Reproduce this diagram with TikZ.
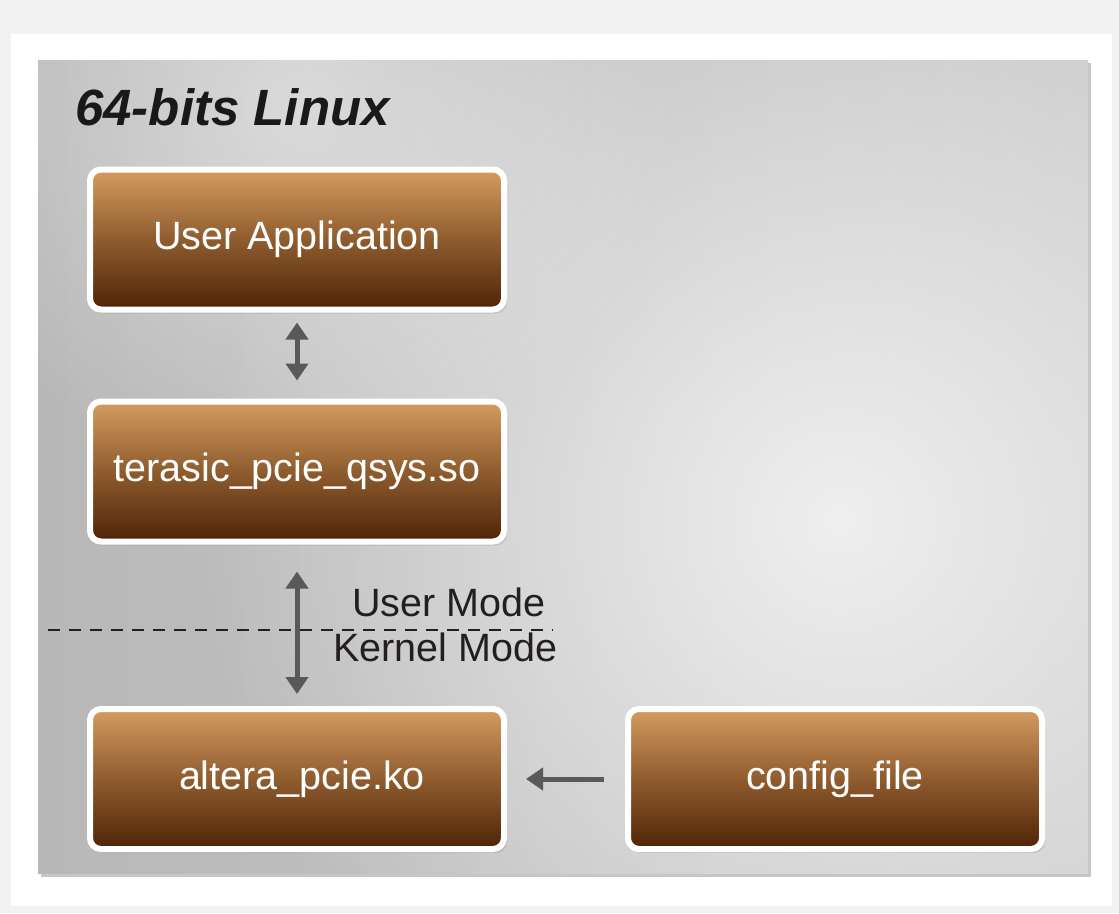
\documentclass[tikz,border=0pt]{standalone}
\usepackage{fontspec}
\setmainfont{Liberation Sans}
\usetikzlibrary{arrows.meta,shadows,fadings}
\tikzfading[name=softspot, inner color=transparent!0, outer color=transparent!100]
\definecolor{brtop}{HTML}{D49C60}
\definecolor{brmid}{HTML}{8F5C2E}
\definecolor{brbot}{HTML}{4E2306}
\definecolor{arrgray}{HTML}{59595B}
\definecolor{txtdark}{HTML}{231F20}
\definecolor{pagebg}{HTML}{F2F2F2}
\definecolor{panelin}{HTML}{F0EFEF}
\definecolor{panelleft}{HTML}{B8B8B8}
\definecolor{panelright}{HTML}{CACACA}
\tikzset{
  box/.style={rectangle, rounded corners=11pt, draw=white, line width=6pt,
    minimum width=414pt, minimum height=140pt,
    top color=brtop, bottom color=brbot, middle color=brmid,
    text=white, font=\fontsize{39.5}{42}\selectfont,
    drop shadow={opacity=0.22, shadow xshift=3pt, shadow yshift=-4pt}},
  arr/.style={draw=arrgray, line width=5pt, -{Triangle[width=22pt,length=17pt]}},
  darr/.style={draw=arrgray, line width=5pt, {Triangle[width=22pt,length=17pt]}-{Triangle[width=22pt,length=17pt]}},
  modelabel/.style={anchor=base west, inner sep=0pt, text=txtdark, font=\fontsize{39.5}{42}\selectfont},
  sep/.style={draw=txtdark, line width=2pt, dash pattern=on 12pt off 9pt}
}
\begin{document}
\begin{tikzpicture}[x=1pt,y=-1pt]
\useasboundingbox (0,0) rectangle (1119,913);
% page and card
\fill[pagebg] (0,0) rectangle (1119,913);
\fill[white] (11,34) rectangle (1112,906);
% panel shadow
\fill[gray!45] (41,63) rectangle (1091,877);
% panel
\begin{scope}
  \clip (38,60) rectangle (1088,873);
  \shade[left color=panelleft, right color=panelright] (38,60) rectangle (1088,873);
  \fill[panelin, path fading=softspot] (840,520) circle (640);
  \fill[white, opacity=0.45, path fading=softspot] (300,110) circle (380);
\end{scope}
% title
\node[anchor=base west, inner sep=0pt, text=black!90,
  font=\fontsize{51}{55}\selectfont\bfseries\itshape] (title) at (75,125) {64-bits Linux};
% boxes
\node[box] (ua) at (297,239.5) {User Application};
\node[box] (ts) at (297,471.5) {terasic\_pcie\_qsys.so};
\node[box] (ak) at (297,779) {\hspace*{10pt}altera\_pcie.ko};
\node[box] (cf) at (835,779) {config\_file};
% separator
\coordinate (d1) at (48,630);
\coordinate (d2) at (553,630);
\draw[sep] (d1) -- (d2);
\node[modelabel] (um) at (352,616) {User Mode};
\node[modelabel] (km) at (333,661) {Kernel Mode};
% arrows
\draw[darr] ([yshift=-10pt]ua.south) -- ([yshift=18pt]ts.north);
\draw[darr] ([yshift=-27pt]ts.south) -- ([yshift=12pt]ak.north);
\draw[arr] ([xshift=-21pt]cf.west) -- ([xshift=19pt]ak.east);
\end{tikzpicture}
\end{document}
